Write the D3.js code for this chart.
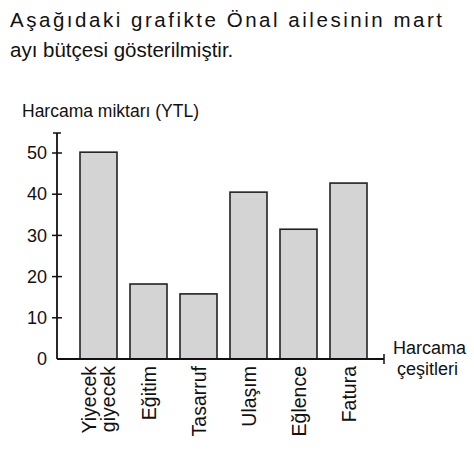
<!DOCTYPE html>
<html><head><meta charset="utf-8">
<script src="https://cdn.jsdelivr.net/npm/d3@7"></script>
<style>body{margin:0;background:#fff}</style></head>
<body><svg id="c" width="474" height="453"></svg>
<script>
const categories = [["Yiyecek","giyecek"],["Eğitim"],["Tasarruf"],["Ulaşım"],["Eğlence"],["Fatura"]];
const values = [50.2, 18.2, 15.8, 40.5, 31.5, 42.7];
const yTicks = [0,10,20,30,40,50];
const svg = d3.select("#c");
const font = "'Liberation Sans', Arial, sans-serif";
const title = ["Aşağıdaki grafikte Önal ailesinin mart","ayı bütçesi gösterilmiştir."];
svg.selectAll("text.t").data(title).join("text").attr("x",10).attr("y",(d,i)=>27+i*30)
  .attr("font-family",font).attr("font-size",20.5).attr("fill","#111").text(d=>d)
  .attr("textLength",(d,i)=>i==0?432:null);
svg.append("text").attr("x",22).attr("y",117).attr("font-family",font).attr("font-size",17.5).attr("fill","#111").text("Harcama miktarı (YTL)");
const x0=57;
const y = d3.scaleLinear().domain([0,50]).range([359,153]);
const x = d3.scaleBand().domain(d3.range(categories.length)).range([73.5,373.5]).paddingInner(0.26).paddingOuter(0.13);
const g = svg.append("g");
g.selectAll("rect").data(values).join("rect")
  .attr("x",(d,i)=>x(i)).attr("width",x.bandwidth()).attr("y",d=>y(d)).attr("height",d=>y(0)-y(d))
  .attr("fill","#d4d4d4").attr("stroke","#222").attr("stroke-width",1.6);
g.append("line").attr("x1",x0).attr("x2",x0).attr("y1",133).attr("y2",359).attr("stroke","#111").attr("stroke-width",1.8);
g.append("line").attr("x1",x0-4).attr("x2",x0+4).attr("y1",133).attr("y2",133).attr("stroke","#111").attr("stroke-width",1.5);
g.append("line").attr("x1",x0).attr("x2",384).attr("y1",359).attr("y2",359).attr("stroke","#111").attr("stroke-width",1.8);
g.append("line").attr("x1",384).attr("x2",384).attr("y1",354).attr("y2",364).attr("stroke","#111").attr("stroke-width",1.5);
const ax = d3.axisLeft(y).tickValues(yTicks).tickSize(0).tickPadding(10);
const ag = g.append("g").attr("transform",`translate(${x0},0)`).call(ax);
ag.select(".domain").remove();
ag.selectAll("text").attr("font-family",font).attr("font-size",18).attr("fill","#111");
g.selectAll("line.tk").data(yTicks.slice(1)).join("line").attr("x1",x0-5).attr("x2",x0+5)
  .attr("y1",d=>y(d)).attr("y2",d=>y(d)).attr("stroke","#111").attr("stroke-width",1.5);
categories.forEach((lines,i)=>{
  const cx = x(i)+x.bandwidth()/2;
  lines.forEach((l,j)=>{
    const off = (j-(lines.length-1)/2)*19 + 7;
    svg.append("text").attr("transform",`translate(${cx+off},366) rotate(-90)`)
      .attr("text-anchor","end").attr("font-family",font).attr("font-size",19.5).attr("fill","#111").text(l);
  });
});
svg.append("text").attr("x",393).attr("y",354).attr("font-family",font).attr("font-size",18).attr("fill","#111").text("Harcama");
svg.append("text").attr("x",397).attr("y",375).attr("font-family",font).attr("font-size",18).attr("fill","#111").text("çeşitleri");
</script></body></html>
